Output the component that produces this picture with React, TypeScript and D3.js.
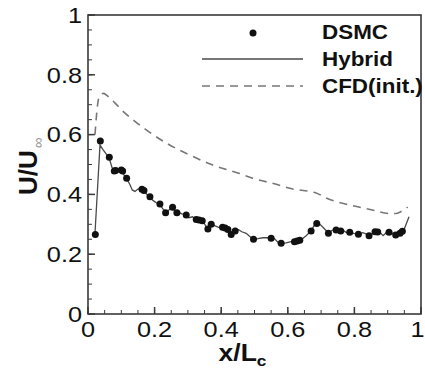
import React from "react";
import * as d3 from "d3";

const yTicks = [0, 0.2, 0.4, 0.6, 0.8, 1];
const xTicks = [0, 0.2, 0.4, 0.6, 0.8, 1];
const yTickLabels = ["0", "0.2", "0.4", "0.6", "0.8", "1"];
const xTickLabels = ["0", "0.2", "0.4", "0.6", "0.8", "1"];

const legendLabels = ["DSMC", "Hybrid", "CFD(init.)"];

const dsmcX = [0.022, 0.037, 0.064, 0.079, 0.083, 0.1, 0.104, 0.116, 0.162, 0.168, 0.186, 0.216, 0.233, 0.254, 0.267, 0.295, 0.325, 0.333, 0.343, 0.36, 0.37, 0.404, 0.412, 0.42, 0.43, 0.442, 0.497, 0.55, 0.58, 0.62, 0.628, 0.636, 0.67, 0.687, 0.722, 0.745, 0.759, 0.786, 0.812, 0.844, 0.862, 0.87, 0.904, 0.924, 0.937, 0.944];
const dsmcY = [0.266, 0.579, 0.524, 0.478, 0.48, 0.482, 0.478, 0.454, 0.417, 0.413, 0.392, 0.368, 0.339, 0.357, 0.339, 0.331, 0.316, 0.314, 0.312, 0.284, 0.3, 0.29, 0.288, 0.283, 0.266, 0.278, 0.25, 0.253, 0.237, 0.242, 0.244, 0.247, 0.278, 0.303, 0.27, 0.281, 0.278, 0.273, 0.267, 0.262, 0.275, 0.274, 0.273, 0.264, 0.27, 0.277];

const hybridX = [0.021, 0.036, 0.045, 0.055, 0.064, 0.072, 0.081, 0.09, 0.1, 0.108, 0.116, 0.125, 0.133, 0.141, 0.15, 0.158, 0.166, 0.175, 0.186, 0.195, 0.205, 0.216, 0.226, 0.235, 0.245, 0.254, 0.262, 0.272, 0.282, 0.293, 0.303, 0.314, 0.325, 0.335, 0.345, 0.355, 0.362, 0.372, 0.382, 0.392, 0.402, 0.412, 0.422, 0.43, 0.44, 0.452, 0.462, 0.475, 0.485, 0.497, 0.51, 0.525, 0.54, 0.55, 0.56, 0.57, 0.58, 0.595, 0.61, 0.625, 0.64, 0.655, 0.67, 0.68, 0.688, 0.698, 0.71, 0.722, 0.733, 0.745, 0.755, 0.765, 0.775, 0.786, 0.798, 0.812, 0.825, 0.835, 0.845, 0.855, 0.866, 0.876, 0.886, 0.896, 0.906, 0.916, 0.926, 0.934, 0.942, 0.95, 0.964];
const hybridY = [0.27, 0.565, 0.55, 0.535, 0.52, 0.49, 0.478, 0.482, 0.478, 0.465, 0.452, 0.435, 0.415, 0.41, 0.418, 0.42, 0.412, 0.402, 0.39, 0.38, 0.372, 0.365, 0.35, 0.338, 0.35, 0.355, 0.342, 0.34, 0.335, 0.332, 0.322, 0.325, 0.315, 0.31, 0.31, 0.292, 0.283, 0.3, 0.295, 0.29, 0.288, 0.286, 0.282, 0.266, 0.278, 0.282, 0.275, 0.27, 0.26, 0.25, 0.252, 0.255, 0.255, 0.253, 0.252, 0.24, 0.236, 0.238, 0.242, 0.243, 0.248, 0.262, 0.278, 0.298, 0.303, 0.298, 0.285, 0.27, 0.28, 0.283, 0.278, 0.28, 0.273, 0.274, 0.27, 0.267, 0.272, 0.268, 0.262, 0.27, 0.276, 0.274, 0.262, 0.272, 0.276, 0.268, 0.264, 0.27, 0.276, 0.285, 0.325];

const cfdX = [0.021, 0.026, 0.031, 0.038, 0.046, 0.06, 0.08, 0.106, 0.14, 0.176, 0.236, 0.305, 0.375, 0.455, 0.495, 0.565, 0.615, 0.665, 0.685, 0.715, 0.784, 0.854, 0.904, 0.925, 0.939, 0.954, 0.96];
const cfdY = [0.6, 0.67, 0.716, 0.732, 0.738, 0.728, 0.707, 0.677, 0.645, 0.615, 0.571, 0.532, 0.498, 0.47, 0.454, 0.434, 0.418, 0.41, 0.405, 0.388, 0.365, 0.348, 0.336, 0.336, 0.342, 0.352, 0.358];

const W = 425;
const H = 370;
const L = 88, R = 421, T = 15, B = 314;
const FONT = "'Liberation Sans', Arial, Helvetica, sans-serif";
const SX = 1.15;

function SText({ x, y, anchor = "start", size, weight = "normal", fill = "#111", children }: any) {
  return (
    <g transform={`translate(${x},${y}) scale(${SX},1)`}>
      <text x={0} y={0} textAnchor={anchor} fontSize={size} fontWeight={weight} fontFamily={FONT} fill={fill}>
        {children}
      </text>
    </g>
  );
}

export default function App() {
  const x = d3.scaleLinear().domain([0, 1]).range([L, R]);
  const y = d3.scaleLinear().domain([0, 1]).range([B, T]);

  const hybrid = hybridX.map((v, i) => [v, hybridY[i]] as [number, number]);
  const cfd = cfdX.map((v, i) => [v, cfdY[i]] as [number, number]);
  const line = d3.line<[number, number]>().x((d) => x(d[0])).y((d) => y(d[1]));
  const cfdLine = d3.line<[number, number]>().x((d) => x(d[0])).y((d) => y(d[1])).curve(d3.curveMonotoneX);

  const minor = d3.range(0, 1.0001, 0.05).map((v) => +v.toFixed(2));
  const axisColor = "#3a3a3a";

  return (
    <svg width={W} height={H} style={{ position: "absolute", left: 0, top: 0 }}>
      <rect width={W} height={H} fill="#fff" />
      {/* minor ticks */}
      {minor.map((v) => (
        <g key={"m" + v}>
          <line x1={L} x2={L + 4} y1={y(v)} y2={y(v)} stroke={axisColor} strokeWidth={1} />
          <line x1={x(v)} x2={x(v)} y1={B} y2={B - 4} stroke={axisColor} strokeWidth={1} />
        </g>
      ))}
      {yTicks.map((v) => (
        <line key={"yt" + v} x1={L} x2={L + 7} y1={y(v)} y2={y(v)} stroke={axisColor} strokeWidth={1.5} />
      ))}
      {xTicks.map((v) => (
        <line key={"xt" + v} x1={x(v)} x2={x(v)} y1={B} y2={B - 7} stroke={axisColor} strokeWidth={1.5} />
      ))}
      {/* frame */}
      <rect x={L} y={T} width={R - L} height={B - T} fill="none" stroke={axisColor} strokeWidth={1.6} />

      {/* tick labels */}
      {yTicks.map((v, i) => (
        <SText key={"yl" + v} x={82} y={y(v) + 7.8} anchor="end" size={22}>
          {yTickLabels[i]}
        </SText>
      ))}
      {xTicks.map((v, i) => (
        <SText key={"xl" + v} x={Math.min(x(v), 417.5)} y={337} anchor="middle" size={22}>
          {xTickLabels[i]}
        </SText>
      ))}

      {/* axis titles */}
      <g transform={`translate(${L + (R - L) / 2 - 12},361) scale(${SX},1)`}>
        <text textAnchor="middle" fontSize={23} fontWeight="bold" fontFamily={FONT} fill="#111">
          x/L<tspan fontSize={15} dy={5}>c</tspan>
        </text>
      </g>
      <g transform="translate(37,195) rotate(-90)">
        <text x={0} y={0} fontSize={26} fontWeight="bold" fontFamily={FONT} fill="#111">
          U/U
          <tspan fontSize={15} fontWeight="normal" fill="#999" dy={6} dx={2}>∞</tspan>
        </text>
      </g>

      {/* data */}
      <path d={cfdLine(cfd) || ""} fill="none" stroke="#777" strokeWidth={1.6} strokeDasharray="8,6" />
      <path d={line(hybrid) || ""} fill="none" stroke="#4a4a4a" strokeWidth={1.3} />
      {dsmcX.map((v, i) => (
        <circle key={"d" + i} cx={x(v)} cy={y(dsmcY[i])} r={3.5} fill="#111" />
      ))}

      {/* legend */}
      <circle cx={253} cy={33} r={3.5} fill="#111" />
      <line x1={202} x2={303} y1={59} y2={59} stroke="#4a4a4a" strokeWidth={1.3} />
      <line x1={202} x2={303} y1={86} y2={86} stroke="#777" strokeWidth={1.6} strokeDasharray="8,6" />
      {legendLabels.map((t, i) => (
        <SText key={t} x={322} y={39 + i * 27} size={19.5} weight="bold">
          {t}
        </SText>
      ))}
    </svg>
  );
}
